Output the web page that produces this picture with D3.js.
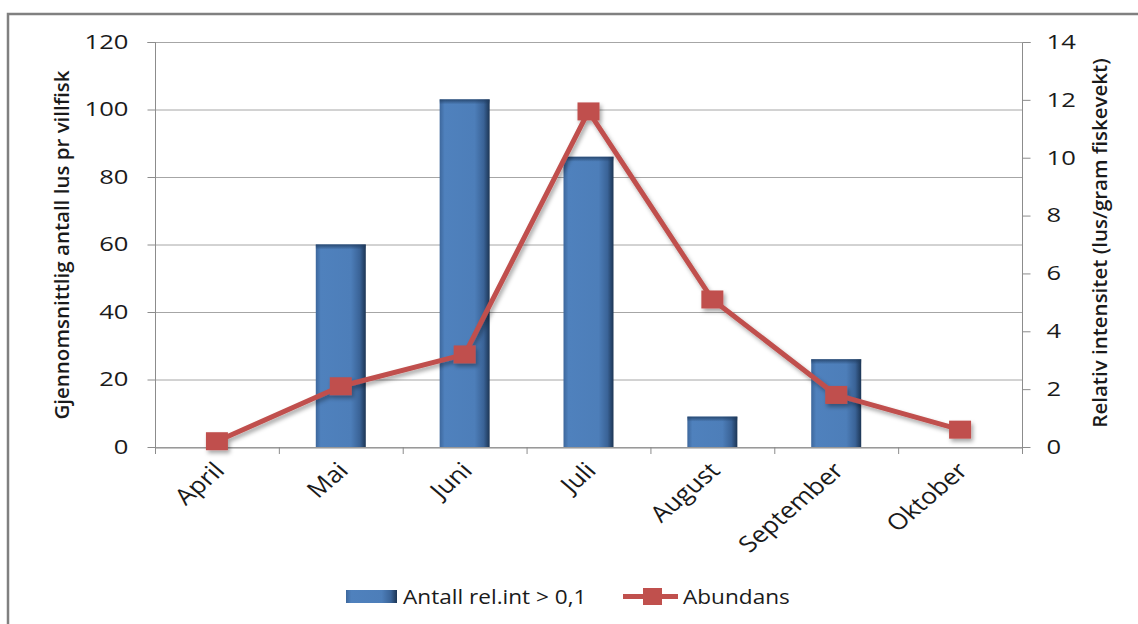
<!DOCTYPE html>
<html>
<head>
<meta charset="utf-8">
<script src="https://cdn.jsdelivr.net/npm/d3@7"></script>
<style>
  html, body { margin: 0; padding: 0; background: #fff; }
  svg { display: block; }
  text { font-family: "Open Sans", "Noto Sans", sans-serif; fill: #1a1a1a; }
</style>
</head>
<body>
<svg id="chart" width="1138" height="624"></svg>
<script>
// Monthly lice counts on wild fish and their relative intensity
const months = ["April", "Mai", "Juni", "Juli", "August", "September", "Oktober"];
const antall = [0, 60, 103, 86, 9, 26, 0];            // left axis (bars)
const abundans = [0.2, 2.1, 3.2, 11.6, 5.1, 1.8, 0.6]; // right axis (line)
const leftTicks = [0, 20, 40, 60, 80, 100, 120];
const rightTicks = [0, 2, 4, 6, 8, 10, 12, 14];
const barName = "Antall rel.int > 0,1";
const lineName = "Abundans";
const leftTitle = "Gjennomsnittlig antall lus pr villfisk";
const rightTitle = "Relativ intensitet (lus/gram fiskevekt)";

const svg = d3.select("#chart");
const m = { left: 155, right: 1022, top: 42, bottom: 447 };

const x = d3.scaleBand().domain(months).range([m.left, m.right]).paddingInner(0).paddingOuter(0);
const yL = d3.scaleLinear().domain([0, 120]).range([m.bottom, m.top]);
const yR = d3.scaleLinear().domain([0, 14]).range([m.bottom, m.top]);

// text in this chart is set slightly wide
const tickStretch = 1.28, legendStretch = 1.13, catStretch = 1.17;

const defs = svg.append("defs");
const grad = defs.append("linearGradient").attr("id", "barGrad").attr("x1", "0").attr("x2", "1").attr("y1", "0").attr("y2", "0");
[["0%", "#3d679c"], ["10%", "#4f81bd"], ["70%", "#4d7eb9"], ["88%", "#3a6397"], ["100%", "#1c3554"]]
  .forEach(([o, c]) => grad.append("stop").attr("offset", o).attr("stop-color", c));
const gradTop = defs.append("linearGradient").attr("id", "barTop").attr("x1", "0").attr("x2", "0").attr("y1", "0").attr("y2", "1");
[["0%", "#1f3b5e", 0.8], ["100%", "#1f3b5e", 0]]
  .forEach(([o, c, a]) => gradTop.append("stop").attr("offset", o).attr("stop-color", c).attr("stop-opacity", a));
const shadow = defs.append("filter").attr("id", "shadow").attr("x", "-20%").attr("y", "-20%").attr("width", "140%").attr("height", "140%");
shadow.append("feDropShadow").attr("dx", 2).attr("dy", 3).attr("stdDeviation", 2.2)
  .attr("flood-color", "#000").attr("flood-opacity", 0.35);

// outer frame
svg.append("rect").attr("x", 8).attr("y", 14).attr("width", 1160).attr("height", 640)
  .attr("fill", "none").attr("stroke", "#808080").attr("stroke-width", 2.5);

// gridlines
svg.append("g").selectAll("line").data(leftTicks).join("line")
  .attr("x1", m.left).attr("x2", m.right)
  .attr("y1", d => yL(d) + 0.5).attr("y2", d => yL(d) + 0.5)
  .attr("stroke", "#a6a6a6").attr("stroke-width", 1);

// axes
const axisL = svg.append("g").attr("transform", `translate(${m.left + 0.5},0)`)
  .call(d3.axisLeft(yL).tickValues(leftTicks).tickSize(8));
const axisR = svg.append("g").attr("transform", `translate(${m.right + 0.5},0)`)
  .call(d3.axisRight(yR).tickValues(rightTicks).tickSize(8));
const axisB = svg.append("g").attr("transform", `translate(0,${m.bottom + 0.5})`)
  .call(d3.axisBottom(x).tickValues([]).tickSizeOuter(0));
[axisL, axisR, axisB].forEach(g => {
  g.selectAll("path,line").attr("stroke", "#8c8c8c");
  g.selectAll("text").style("font-size", "20px").attr("fill", "#1a1a1a")
    .attr("transform", `scale(${tickStretch},1)`);
});
axisL.selectAll("text").attr("x", -27 / tickStretch);
axisR.selectAll("text").attr("x", 24 / tickStretch);
axisL.select(".domain").attr("d", `M-8,${m.top + 0.5}H0V${m.bottom}`);
axisR.select(".domain").attr("d", `M8,${m.top + 0.5}H0V${m.bottom}`);

// category separators on the x axis
const bounds = months.map(d => x(d)).concat([m.right]);
svg.append("g").selectAll("line").data(bounds).join("line")
  .attr("x1", d => d + 0.5).attr("x2", d => d + 0.5)
  .attr("y1", m.bottom).attr("y2", m.bottom + 7)
  .attr("stroke", "#8c8c8c");

// category labels
svg.append("g").selectAll("text").data(months).join("text")
  .attr("transform", d => `translate(${x(d) + x.bandwidth() / 2 + 9},${m.bottom + 25}) scale(${catStretch},1) rotate(-45)`)
  .attr("text-anchor", "end")
  .style("font-size", "22.5px")
  .text(d => d);

// bars
const bw = 50;
const bars = svg.append("g").selectAll("g").data(months.map((d, i) => ({ m: d, v: antall[i] })).filter(d => d.v > 0)).join("g");
bars.append("rect")
  .attr("x", d => x(d.m) + x.bandwidth() / 2 - bw / 2)
  .attr("y", d => yL(d.v))
  .attr("width", bw)
  .attr("height", d => m.bottom - yL(d.v))
  .attr("fill", "url(#barGrad)");
bars.append("rect")
  .attr("x", d => x(d.m) + x.bandwidth() / 2 - bw / 2)
  .attr("y", d => yL(d.v))
  .attr("width", bw)
  .attr("height", 5)
  .attr("fill", "url(#barTop)");

// abundance line with markers
const pts = months.map((d, i) => [x(d) + x.bandwidth() / 2, yR(abundans[i])]);
const lineG = svg.append("g").attr("filter", "url(#shadow)");
lineG.append("path")
  .attr("d", d3.line()(pts))
  .attr("fill", "none").attr("stroke", "#c0504d").attr("stroke-width", 5).attr("stroke-linejoin", "round");
lineG.selectAll("rect").data(pts).join("rect")
  .attr("x", d => d[0] - 11).attr("y", d => d[1] - 9)
  .attr("width", 22).attr("height", 18)
  .attr("fill", "#c0504d");

// axis titles
svg.append("text")
  .attr("transform", `translate(69,245) rotate(-90)`)
  .attr("text-anchor", "middle")
  .style("font-size", "20.5px").style("font-weight", "600")
  .text(leftTitle);
svg.append("text")
  .attr("transform", `translate(1107,243) rotate(-90)`)
  .attr("text-anchor", "middle")
  .style("font-size", "20.5px").style("font-weight", "600")
  .text(rightTitle);

// legend
const lg = svg.append("g");
lg.append("rect").attr("x", 346).attr("y", 590).attr("width", 51).attr("height", 13).attr("fill", "url(#barGrad)");
lg.append("text").attr("transform", `translate(403,604) scale(${legendStretch},1)`).style("font-size", "20px").text(barName);
lg.append("line").attr("x1", 623).attr("x2", 678).attr("y1", 596.5).attr("y2", 596.5)
  .attr("stroke", "#c0504d").attr("stroke-width", 5);
lg.append("rect").attr("x", 643).attr("y", 588).attr("width", 19).attr("height", 17).attr("fill", "#c0504d");
lg.append("text").attr("transform", `translate(683,604) scale(${legendStretch},1)`).style("font-size", "20px").text(lineName);
</script>
</body>
</html>
